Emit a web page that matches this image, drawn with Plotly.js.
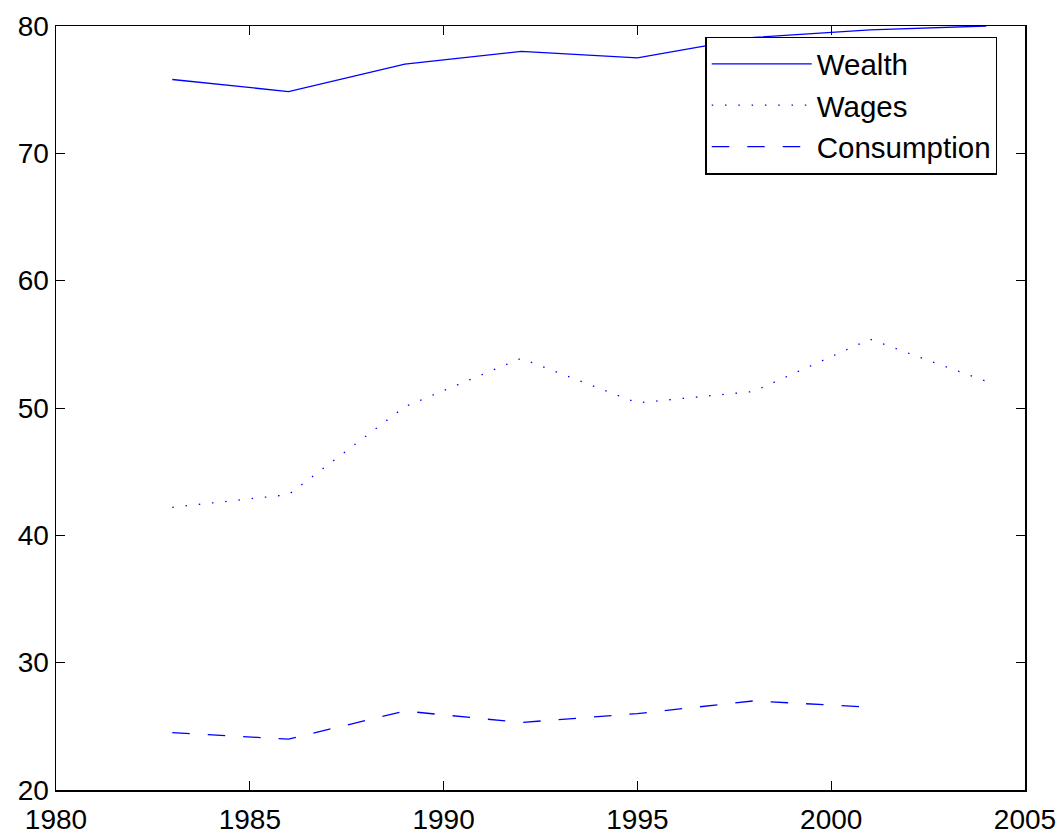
<!DOCTYPE html>
<html>
<head>
<meta charset="utf-8">
<script src="https://cdn.plot.ly/plotly-3.0.1.min.js"></script>
<style>html,body{margin:0;padding:0;background:#fff;}#chart{width:1063px;height:835px;}</style>
</head>
<body>
<div id="chart"></div>
<script>
const wealthYears = [1983, 1986, 1989, 1992, 1995, 1998, 2001, 2004];
const wealthValues = [75.8, 74.85, 77.0, 78.0, 77.5, 79.1, 79.7, 80.0];
const wagesYears = [1983, 1986, 1989, 1992, 1995, 1998, 2001, 2004];
const wagesValues = [42.2, 43.2, 50.1, 53.9, 50.4, 51.3, 55.4, 52.1];
const consYears = [1983, 1986, 1989, 1992, 1995, 1998, 2001];
const consValues = [24.5, 24.0, 26.2, 25.3, 26.0, 27.0, 26.5];
const seriesNames = ["Wealth", "Wages", "Consumption"];
const xTicks = [1980, 1985, 1990, 1995, 2000, 2005];
const yTicks = [20, 30, 40, 50, 60, 70, 80];

const blue = '#0000ff';
const traces = [
  {x: wealthYears, y: wealthValues, name: seriesNames[0], mode: 'lines', line: {color: blue, width: 1.3, dash: 'solid'}},
  {x: wagesYears, y: wagesValues, name: seriesNames[1], mode: 'lines', line: {color: blue, width: 1.3, dash: '1.5px,11.8px'}},
  {x: consYears, y: consValues, name: seriesNames[2], mode: 'lines', line: {color: blue, width: 1.3, dash: '17.5px,18px'}}
];

const axisCommon = {
  showgrid: false, zeroline: false, showline: true, mirror: 'allticks',
  linecolor: '#000', linewidth: 1.5, ticks: 'inside', ticklen: 9, tickwidth: 1,
  tickcolor: '#000', tickfont: {family: 'Liberation Sans, Arial, sans-serif', size: 28, color: '#000'}
};

const layout = {
  width: 1063, height: 835,
  margin: {l: 56, r: 38, t: 26, b: 45},
  paper_bgcolor: '#fff', plot_bgcolor: '#fff',
  font: {family: 'Liberation Sans, Arial, sans-serif', size: 28, color: '#000'},
  xaxis: Object.assign({}, axisCommon, {range: [1980, 2005], tickvals: xTicks, ticktext: xTicks.map(String), ticklabelstandoff: 4}),
  yaxis: Object.assign({}, axisCommon, {range: [20, 80], tickvals: yTicks, ticktext: yTicks.map(String), ticklabelstandoff: 0}),
  showlegend: true,
  legend: {
    x: 0.67, y: 0.986, xanchor: 'left', yanchor: 'top',
    bgcolor: '#fff', bordercolor: '#000', borderwidth: 1.5,
    font: {family: 'Liberation Sans, Arial, sans-serif', size: 29.5, color: '#000'},
    itemwidth: 100, tracegroupgap: 0
  }
};

Plotly.newPlot('chart', traces, layout, {displayModeBar: false, staticPlot: true});
</script>
</body>
</html>
